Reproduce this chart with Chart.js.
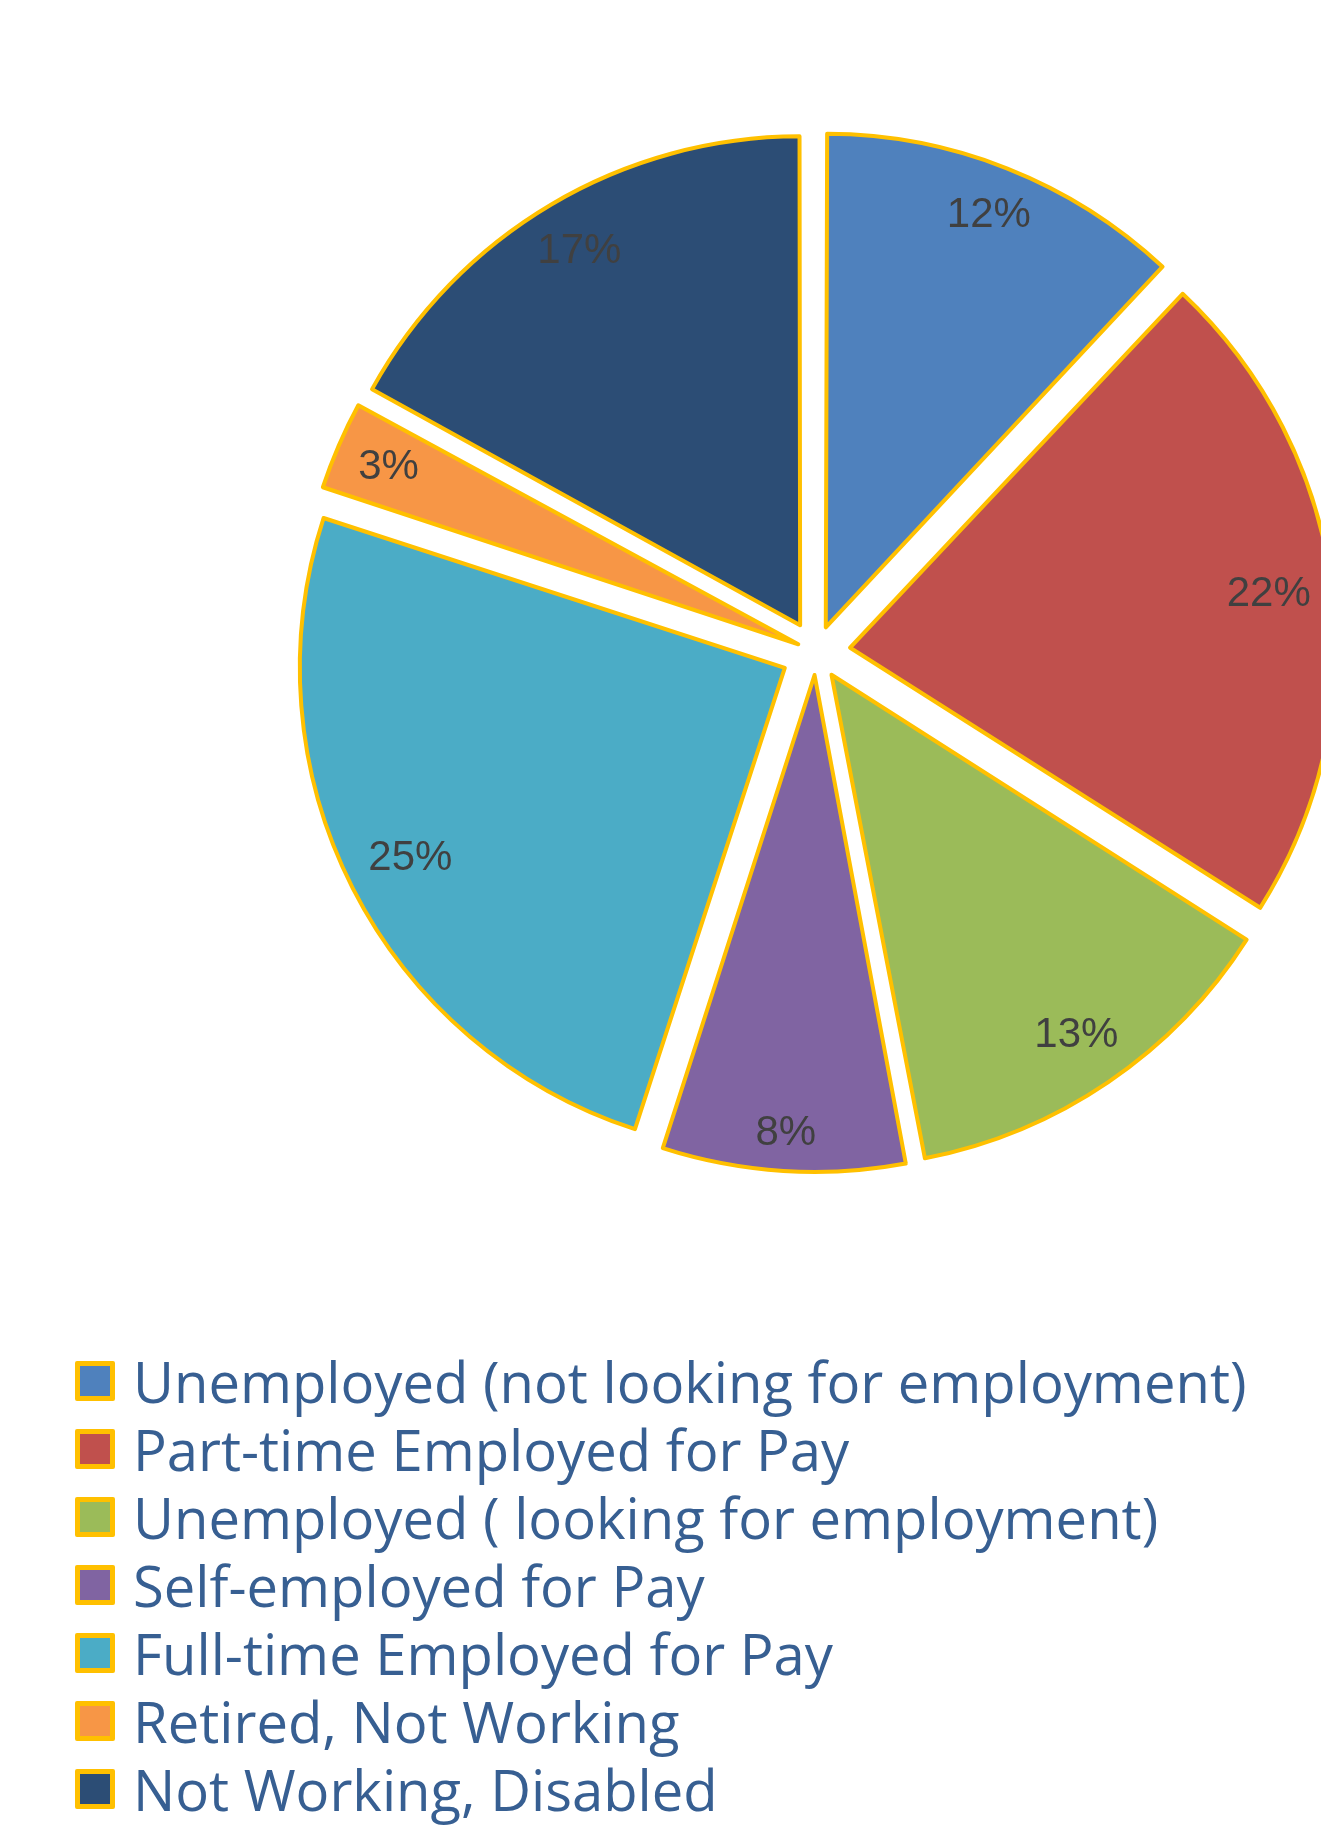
<!DOCTYPE html>
<html>
<head>
<meta charset="utf-8">
<script src="https://cdn.jsdelivr.net/npm/chart.js@4.4.1/dist/chart.umd.min.js"></script>
<style>
    body { margin: 0; width: 1321px; height: 1828px; overflow: hidden; background: #fff; }
    #chart-box { position: absolute; left: 0; top: 0; width: 1321px; height: 1304px; }
    #legend { position: absolute; left: 75px; top: 1347px; font-family: 'Open Sans', sans-serif; font-size: 56.2px; color: #375F92; }
    .legend-item { height: 68px; display: flex; align-items: center; white-space: nowrap; }
    .legend-box { width: 30px; height: 30px; border: 5px solid #FFC000; border-radius: 2px; margin-right: 18px; }
</style>
</head>
<body>
<div id="chart-box"><canvas id="pieChart"></canvas></div>
<div id="legend"></div>

<script>
// Dados do gráfico
const categorias = [
    'Unemployed (not looking for employment)',
    'Part-time Employed for Pay',
    'Unemployed ( looking for employment)',
    'Self-employed for Pay',
    'Full-time Employed for Pay',
    'Retired, Not Working',
    'Not Working, Disabled'
];
const percentuais = [12, 22, 13, 8, 25, 3, 17];
const cores = ['#4F81BD', '#C0504D', '#9BBB59', '#8064A2', '#4BACC6', '#F79646', '#2C4D75'];

const EXPLODE = 35; // distância de "explosão" de cada fatia

// Offset do Chart.js varia com o tamanho do arco, então compensamos
function offsetUniforme(ctx) {
    const total = ctx.dataset.data.reduce((a, b) => a + b, 0);
    const circ = ctx.raw / total * 2 * Math.PI;
    return 4 * EXPLODE / (2 - Math.sin(Math.min(Math.PI, circ)));
}

// Rótulos de porcentagem dentro das fatias
const rotulosPlugin = {
    id: 'rotulos',
    afterDatasetsDraw(chart) {
        const ctx = chart.ctx;
        const meta = chart.getDatasetMeta(0);
        ctx.save();
        ctx.font = '42px "Liberation Sans", Arial, sans-serif';
        ctx.fillStyle = '#404040';
        ctx.textAlign = 'center';
        ctx.textBaseline = 'middle';
        meta.data.forEach((arc, i) => {
            const p = arc.getProps(['x', 'y', 'startAngle', 'endAngle', 'outerRadius'], true);
            const mid = (p.startAngle + p.endAngle) / 2;
            const dx = Math.cos(mid);
            const dy = Math.sin(mid);
            const texto = percentuais[i] + '%';
            const w = ctx.measureText(texto).width;
            const h = 32;
            const dist = EXPLODE + p.outerRadius - 20 - (Math.abs(dx) * w / 2 + Math.abs(dy) * h / 2);
            ctx.fillText(texto, p.x + dx * dist, p.y + dy * dist);
        });
        ctx.restore();
    }
};

new Chart(document.getElementById('pieChart'), {
    type: 'pie',
    data: {
        labels: categorias,
        datasets: [{
            data: percentuais,
            backgroundColor: cores,
            borderColor: '#FFC000',
            borderWidth: 4,
            borderJoinStyle: 'round',
            offset: offsetUniforme,
            clip: false
        }]
    },
    options: {
        responsive: true,
        maintainAspectRatio: false,
        animation: false,
        radius: 485,
        layout: { padding: { left: 311, right: 0, top: 0, bottom: 0 } },
        plugins: {
            legend: { display: false },
            tooltip: { enabled: false }
        }
    },
    plugins: [rotulosPlugin]
});

// Legenda em HTML
const legenda = document.getElementById('legend');
categorias.forEach((nome, i) => {
    const item = document.createElement('div');
    item.className = 'legend-item';
    const caixa = document.createElement('span');
    caixa.className = 'legend-box';
    caixa.style.background = cores[i];
    const txt = document.createElement('span');
    txt.textContent = nome;
    item.appendChild(caixa);
    item.appendChild(txt);
    legenda.appendChild(item);
});
</script>
</body>
</html>
